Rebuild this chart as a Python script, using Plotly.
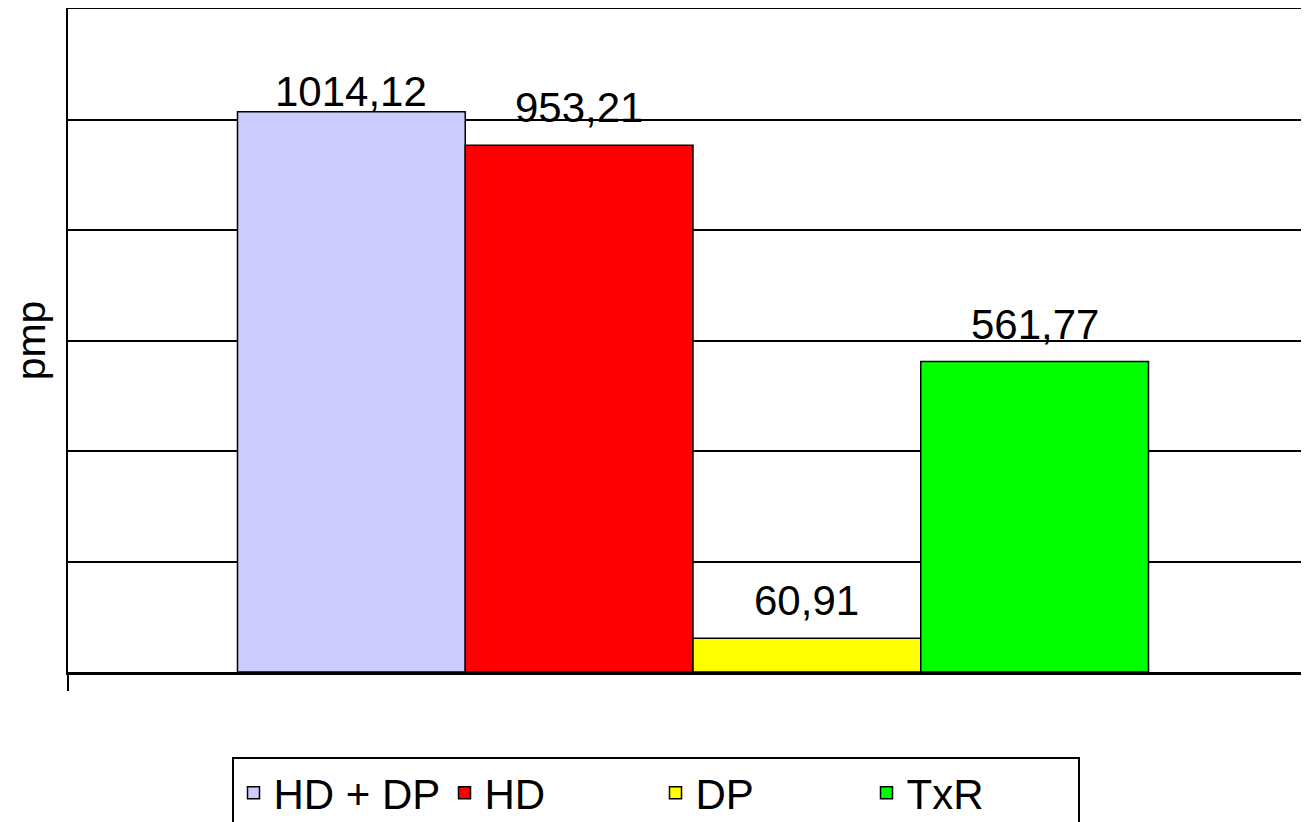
import plotly.graph_objects as go

# ---- data ----
category = ["pmp"]
series_names = ["HD + DP", "HD", "DP", "TxR"]
series_values = [1014.12, 953.21, 60.91, 561.77]
y_ticks = [0, 200, 400, 600, 800, 1000, 1200]

# ---- style ----
colors = ["#CCCCFF", "#FF0000", "#FFFF00", "#00FF00"]
label_yshift = [-5, 12, 12, 12]
BARGAP = 0.2712
FONT = "Arial, 'Liberation Sans', sans-serif"
# the page body has an 8px margin, so the figure is drawn 8px smaller
W, H = 1301, 814


def fmt(v):
    return f"{v:.2f}".replace(".", ",")


fig = go.Figure()
for name, val, col in zip(series_names, series_values, colors):
    fig.add_trace(go.Bar(
        x=category, y=[val], name=name,
        marker=dict(color=col, line=dict(color="black", width=1.5)),
        hoverinfo="skip",
    ))

n = len(series_values)
group_w = 1 - BARGAP
bar_w = group_w / n
for i, v in enumerate(series_values):
    xc = -group_w / 2 + bar_w * (i + 0.5)
    fig.add_annotation(
        x=xc, y=v, xref="x", yref="y", text=fmt(v), showarrow=False,
        yanchor="bottom", yshift=label_yshift[i],
        font=dict(size=42, color="black", family=FONT),
    )

fig.update_layout(
    width=W, height=H,
    margin=dict(l=60, r=0, t=1, b=150, autoexpand=False),
    barmode="group", bargap=BARGAP, bargroupgap=0,
    plot_bgcolor="white", paper_bgcolor="white",
    font=dict(family=FONT, size=42, color="black"),
    showlegend=True,
    xaxis=dict(
        range=[-0.5, 0.4928], showticklabels=False,
        ticks="outside", tickson="boundaries", ticklen=16, tickwidth=2, tickcolor="black",
        showline=True, mirror=True, linecolor="black", linewidth=2.5,
        showgrid=False, zeroline=False,
    ),
    yaxis=dict(
        range=[y_ticks[0], y_ticks[-1]], tickvals=y_ticks, showticklabels=False, ticks="",
        showgrid=True, gridcolor="black", gridwidth=2,
        showline=True, linecolor="black", linewidth=2, zeroline=False,
        title=dict(text="pmp", font=dict(size=41, family=FONT, color="black"), standoff=14),
    ),
    legend=dict(
        orientation="h", xref="container", x=(655.5 - 8) / W, xanchor="center",
        yref="container", y=(H - 749) / H, yanchor="top",
        bordercolor="black", borderwidth=2, bgcolor="white",
        font=dict(size=42, family=FONT, color="black"),
        entrywidth=166, entrywidthmode="pixels",
    ),
)

fig.write_html("out.html")
